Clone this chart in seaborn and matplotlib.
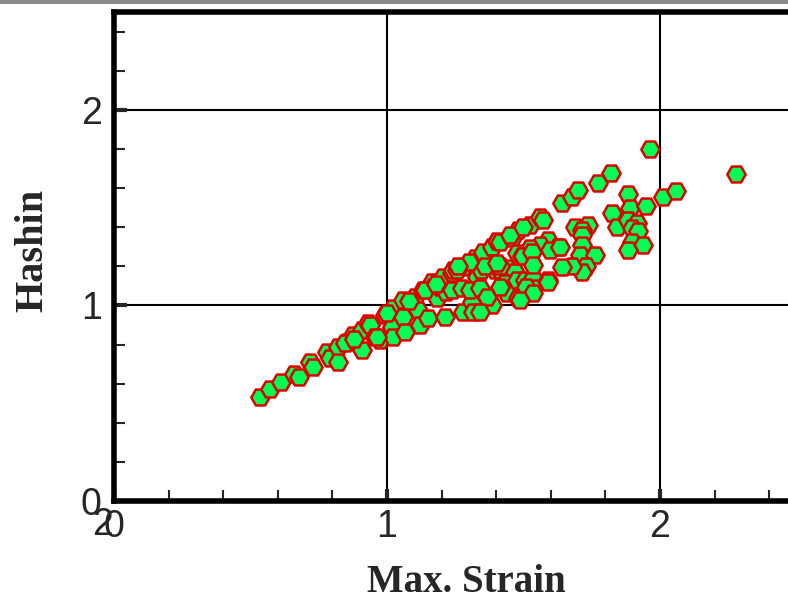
import numpy as np
import pandas as pd
import matplotlib
matplotlib.use("Agg")
import matplotlib.pyplot as plt
from matplotlib.patches import Rectangle
from matplotlib.ticker import MultipleLocator
import seaborn as sns

# values
max_strain = [
    0.535, 0.571, 0.612, 0.659, 0.678, 0.718, 0.729, 0.779, 0.791, 0.822,
    0.819, 0.852, 0.877, 0.907, 0.910, 0.932, 0.938, 0.956, 0.974, 0.993,
    1.023, 1.020, 1.022, 1.060, 1.060, 1.066, 1.103, 1.115, 1.121, 1.133,
    1.151, 1.164, 1.170, 1.182, 1.194, 1.206, 1.216, 1.212, 1.237, 1.237,
    1.243, 1.274, 1.279, 1.279, 1.310, 1.316, 1.322, 1.329, 1.353, 1.344,
    1.365, 1.383, 1.402, 1.396, 1.383, 1.304, 1.341, 1.414, 1.438, 1.469,
    1.432, 1.438, 1.481, 1.475, 1.505, 1.536, 1.536, 1.591, 1.511, 1.414,
    1.457, 1.481, 1.524, 1.560, 1.573, 1.640, 1.677, 1.701, 1.774, 1.820,
    1.963, 2.277, 1.884, 1.890, 1.948, 2.010, 2.057, 1.826, 1.841, 1.884,
    1.915, 1.896, 1.921, 1.896, 1.939, 1.884, 1.689, 1.737, 1.713, 1.713,
    1.713, 1.707, 1.762, 1.729, 1.713, 1.679, 1.641, 1.591, 1.628, 1.560,
    1.524, 1.475, 1.493, 1.499, 1.530, 1.597, 1.634, 1.536, 1.591, 1.536,
    1.487, 1.365, 1.341, 1.414, 1.359, 1.414, 1.402, 0.846, 0.962,
    1.000, 1.080, 1.140, 1.255, 1.300, 1.450, 1.500, 0.880, 1.180, 1.260,
]
hashin = [
    0.532, 0.573, 0.609, 0.647, 0.632, 0.711, 0.685, 0.764, 0.730, 0.789,
    0.713, 0.815, 0.849, 0.875, 0.772, 0.909, 0.900, 0.840, 0.824, 0.951,
    0.986, 0.892, 0.840, 1.028, 0.943, 0.866, 1.045, 0.977, 0.900, 1.079,
    0.935, 1.122, 1.096, 1.037, 1.096, 1.143, 1.071, 0.939, 1.165, 1.079,
    1.182, 1.088, 1.194, 0.964, 1.019, 0.968, 1.241, 1.147, 1.271, 1.182,
    1.037, 1.301, 1.330, 1.182, 1.003, 1.079, 1.088, 1.182, 1.190, 1.173,
    1.114, 1.062, 1.037, 1.130, 1.130, 1.139, 1.088, 1.130, 1.096, 1.326,
    1.344, 1.386, 1.412, 1.454, 1.437, 1.522, 1.556, 1.588, 1.628, 1.678,
    1.800, 1.671, 1.570, 1.497, 1.509, 1.553, 1.587, 1.472, 1.403, 1.437,
    1.420, 1.395, 1.378, 1.326, 1.309, 1.284, 1.403, 1.412, 1.386, 1.361,
    1.309, 1.258, 1.256, 1.202, 1.173, 1.200, 1.197, 1.332, 1.301, 1.309,
    1.292, 1.267, 1.253, 1.250, 1.275, 1.284, 1.301, 1.207, 1.122, 1.062,
    1.028, 1.045, 0.968, 1.199, 1.199, 1.096, 1.216, 0.807, 0.840,
    0.960, 1.020, 1.080, 1.180, 1.220, 1.360, 1.400, 0.830, 1.110, 1.200,
]
x_ticks = [0, 1, 2]
y_ticks = [0, 1, 2]

df = pd.DataFrame({"Max. Strain": max_strain, "Hashin": hashin})

sns.set_style("white")
fig = plt.figure(figsize=(7.88, 6.05), dpi=100)
ax = fig.add_axes([0.1447, 0.1719, 0.866, 0.8083])

# grey strip along the top edge
fig.add_artist(Rectangle((0, 1 - 4 / 605), 1, 4 / 605, transform=fig.transFigure,
                         color="#8a8a8a", lw=0))

ax.set_axisbelow(True)
ax.grid(True, which="major", color="black", lw=1.5)
sns.scatterplot(data=df, x="Max. Strain", y="Hashin", marker="H", s=175,
                color="#00FF55", edgecolor="#E00000", linewidth=1.8, ax=ax,
                zorder=3)

ax.set_xlim(0, 2.5)
ax.set_ylim(0, 2.5)
ax.set_xticks(x_ticks)
ax.set_yticks(y_ticks)
ax.xaxis.set_minor_locator(MultipleLocator(0.2))
ax.yaxis.set_minor_locator(MultipleLocator(0.2))
ax.tick_params(which="both", direction="in", bottom=True, left=True,
               top=False, right=False)
ax.tick_params(which="major", length=9, width=3, labelsize=27)
ax.tick_params(which="minor", length=8, width=1.5)
ax.tick_params(axis="x", pad=6)
ax.tick_params(axis="y", pad=9)
for lab in ax.get_xticklabels() + ax.get_yticklabels():
    lab.set_fontfamily("Liberation Sans")

for side in ["top", "left", "bottom"]:
    ax.spines[side].set_linewidth(4)
    ax.spines[side].set_color("black")
ax.spines["right"].set_visible(False)

# stray "2" overlapping the x-axis zero label, as in the source picture
ax.text(-0.017, -0.012, "2", transform=ax.transAxes, ha="center", va="top",
        fontsize=27, family="Liberation Sans")

ax.set_xlabel("Max. Strain", fontsize=28, fontweight="bold", family="Liberation Serif")
ax.set_ylabel("Hashin", fontsize=29, fontweight="bold", family="Liberation Serif")
ax.xaxis.set_label_coords(0.517, -0.128)
ax.yaxis.set_label_coords(-0.092, 0.513)

fig.savefig("out.png", dpi=100)
